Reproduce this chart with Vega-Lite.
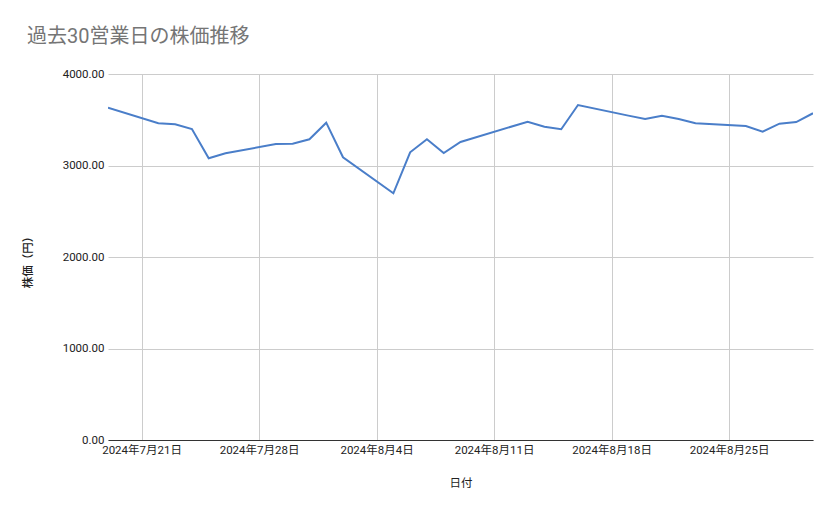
{
  "$schema": "https://vega.github.io/schema/vega-lite/v6.json",
  "description": "過去30営業日の株価推移",
  "width": 705,
  "height": 366,
  "autosize": {"type": "none"},
  "padding": {"left": 108, "top": 74, "right": 26, "bottom": 79},
  "background": "white",
  "config": {
    "font": "Roboto, 'Noto Sans CJK JP'",
    "view": {"stroke": null}
  },
  "title": {
    "text": "過去30営業日の株価推移",
    "anchor": "start",
    "frame": "group",
    "dx": -81,
    "offset": 21,
    "fontSize": 20,
    "fontWeight": "normal",
    "color": "#757575",
    "font": "Roboto, 'Noto Sans CJK JP'"
  },
  "data": {
    "values": [
      {"date": "2024-07-19", "price": 3632},
      {"date": "2024-07-22", "price": 3461},
      {"date": "2024-07-23", "price": 3450},
      {"date": "2024-07-24", "price": 3399},
      {"date": "2024-07-25", "price": 3079},
      {"date": "2024-07-26", "price": 3133},
      {"date": "2024-07-29", "price": 3235},
      {"date": "2024-07-30", "price": 3238},
      {"date": "2024-07-31", "price": 3286},
      {"date": "2024-08-01", "price": 3468},
      {"date": "2024-08-02", "price": 3090},
      {"date": "2024-08-05", "price": 2696},
      {"date": "2024-08-06", "price": 3144},
      {"date": "2024-08-07", "price": 3286},
      {"date": "2024-08-08", "price": 3137},
      {"date": "2024-08-09", "price": 3257},
      {"date": "2024-08-13", "price": 3479},
      {"date": "2024-08-14", "price": 3424},
      {"date": "2024-08-15", "price": 3396},
      {"date": "2024-08-16", "price": 3661},
      {"date": "2024-08-19", "price": 3545},
      {"date": "2024-08-20", "price": 3508},
      {"date": "2024-08-21", "price": 3544},
      {"date": "2024-08-22", "price": 3508},
      {"date": "2024-08-23", "price": 3461},
      {"date": "2024-08-26", "price": 3432},
      {"date": "2024-08-27", "price": 3370},
      {"date": "2024-08-28", "price": 3457},
      {"date": "2024-08-29", "price": 3475},
      {"date": "2024-08-30", "price": 3571}
    ]
  },
  "mark": {"type": "line", "color": "#4a7ec9", "strokeWidth": 2, "clip": true},
  "encoding": {
    "x": {
      "field": "date",
      "type": "temporal",
      "scale": {"type": "utc", "domain": ["2024-07-19", "2024-08-30"], "nice": false},
      "axis": {
        "title": "日付",
        "labelExpr": "utcFormat(datum.value, '%Y年%-m月%-d日')",
        "values": [
          {"year": 2024, "month": 7, "date": 21, "utc": true},
          {"year": 2024, "month": 7, "date": 28, "utc": true},
          {"year": 2024, "month": 8, "date": 4, "utc": true},
          {"year": 2024, "month": 8, "date": 11, "utc": true},
          {"year": 2024, "month": 8, "date": 18, "utc": true},
          {"year": 2024, "month": 8, "date": 25, "utc": true}
        ],
        "labelFontSize": 11.5,
        "labelColor": "#222222",
        "labelPadding": 4,
        "ticks": false,
        "grid": true,
        "gridColor": "#cccccc",
        "domain": true,
        "domainColor": "#333333",
        "domainWidth": 1.2,
        "titleFontSize": 11.5,
        "titleFontWeight": "normal",
        "titleColor": "#222222",
        "titlePadding": 22
      }
    },
    "y": {
      "field": "price",
      "type": "quantitative",
      "scale": {"domain": [0, 4000], "nice": false},
      "axis": {
        "title": "株価（円）",
        "values": [0, 1000, 2000, 3000, 4000],
        "format": ".2f",
        "labelFontSize": 11.5,
        "labelColor": "#222222",
        "labelPadding": 4,
        "ticks": false,
        "domain": false,
        "grid": true,
        "gridColor": "#cccccc",
        "titleFontSize": 11.5,
        "titleFontWeight": 500,
        "titleColor": "#222222",
        "titleX": -75,
        "titleY": 185
      }
    }
  }
}
